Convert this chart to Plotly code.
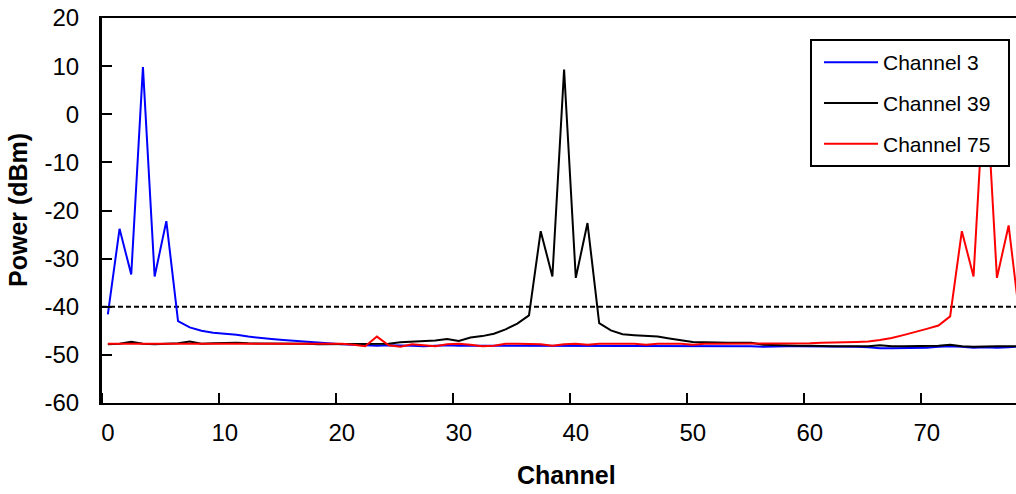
import plotly.graph_objects as go

# Channel index 0..78
channels = list(range(79))

# Measured power (dBm) per channel for each transmit channel
power_ch3 = [
    -41.6, -23.8, -33.3, 9.8, -33.7, -22.2, -43.0, -44.3, -45.0, -45.4,
    -45.6, -45.8, -46.2, -46.5, -46.7, -46.9, -47.1, -47.2, -47.4, -47.6,
    -47.8, -47.9, -48.0, -48.1, -48.0, -48.0, -48.1, -48.2, -48.1, -48.0,
    -48.1, -48.1, -48.2, -48.2, -48.1, -48.1, -48.1, -48.2, -48.2, -48.1,
    -48.1, -48.2, -48.2, -48.1, -48.2, -48.2, -48.1, -48.2, -48.2, -48.2,
    -48.2, -48.2, -48.2, -48.2, -48.2, -48.2, -48.3, -48.2, -48.2, -48.2,
    -48.2, -48.2, -48.2, -48.3, -48.3, -48.4, -48.6, -48.6, -48.6, -48.6,
    -48.5, -48.3, -48.2, -48.3, -48.5, -48.4, -48.5, -48.4, -48.3,
]

power_ch39 = [
    -47.8, -47.7, -47.3, -47.7, -47.8, -47.7, -47.6, -47.2, -47.7, -47.6,
    -47.5, -47.5, -47.6, -47.6, -47.7, -47.7, -47.7, -47.7, -47.8, -47.8,
    -47.8, -47.8, -47.8, -47.8, -47.7, -47.4, -47.3, -47.1, -47.0, -46.7,
    -47.1, -46.4, -46.1, -45.6, -44.7, -43.5, -41.8, -24.3, -33.7, 9.3,
    -34.0, -22.6, -43.4, -44.9, -45.7, -45.9, -46.0, -46.2, -46.6, -47.0,
    -47.3, -47.4, -47.5, -47.5, -47.5, -47.5, -47.9, -48.0, -48.1, -48.1,
    -48.1, -48.2, -48.2, -48.2, -48.2, -48.2, -48.0, -48.2, -48.2, -48.2,
    -48.2, -48.1, -47.9, -48.2, -48.3, -48.2, -48.2, -48.2, -48.2,
]

power_ch75 = [
    -47.7, -47.7, -47.7, -47.7, -47.7, -47.7, -47.7, -47.7, -47.7, -47.7,
    -47.7, -47.7, -47.7, -47.7, -47.7, -47.7, -47.7, -47.7, -47.7, -47.7,
    -47.7, -47.9, -48.2, -46.2, -48.0, -48.3, -47.8, -48.0, -48.2, -47.8,
    -47.7, -47.9, -48.2, -48.1, -47.7, -47.7, -47.7, -47.8, -48.1, -47.8,
    -47.7, -47.9, -47.7, -47.7, -47.7, -47.7, -47.9, -47.7, -47.7, -47.7,
    -47.9, -47.7, -47.7, -47.7, -47.7, -47.7, -47.7, -47.7, -47.7, -47.7,
    -47.6, -47.5, -47.5, -47.4, -47.3, -47.2, -46.9, -46.5, -45.9, -45.3,
    -44.6, -43.9, -42.0, -24.3, -33.7, 9.5, -34.0, -23.1, -43.5,
]

series_names = ["Channel 3", "Channel 39", "Channel 75"]
series_colors = ["#0000FF", "#000000", "#FF0000"]
threshold_dbm = -40

x_tick_vals = [0, 10, 20, 30, 40, 50, 60, 70]
y_tick_vals = [20, 10, 0, -10, -20, -30, -40, -50, -60]

FONT = "Liberation Sans, Arial, sans-serif"

# plot area in pixels
PL, PR, PT, PB = 102, 1016, 18, 403
PW, PH = PR - PL, PB - PT


def px_x(px):
    return (px - PL) / PW


def px_y(py):
    return (PB - py) / PH


fig = go.Figure()
for i, (name, values, color) in enumerate(
    zip(series_names, [power_ch3, power_ch39, power_ch75], series_colors)
):
    fig.add_trace(
        go.Scatter(
            x=channels,
            y=values,
            mode="lines",
            name=name,
            legendgroup=f"g{i}",
            line=dict(color=color, width=2),
        )
    )

# -40 dBm limit line
fig.add_shape(
    type="line",
    xref="paper",
    yref="y",
    x0=0,
    x1=1,
    y0=threshold_dbm,
    y1=threshold_dbm,
    line=dict(color="#000000", width=2, dash="5px,3px"),
    layer="below",
)

# legend frame (white panel drawn over the traces)
fig.add_shape(
    type="rect",
    xref="paper",
    yref="paper",
    x0=px_x(811),
    x1=px_x(1009),
    y0=px_y(166),
    y1=px_y(40),
    line=dict(color="#000000", width=2),
    fillcolor="#FFFFFF",
    layer="above",
)

fig.update_layout(
    width=1016,
    height=494,
    margin=dict(l=PL, r=1016 - PR, t=PT, b=494 - PB),
    paper_bgcolor="#FFFFFF",
    plot_bgcolor="#FFFFFF",
    font=dict(family=FONT, color="#000000", size=24),
    showlegend=True,
    legend=dict(
        x=px_x(819),
        y=px_y(42),
        xanchor="left",
        yanchor="top",
        bgcolor="rgba(0,0,0,0)",
        borderwidth=0,
        font=dict(family=FONT, size=21, color="#000000"),
        tracegroupgap=10.5,
        itemwidth=54,
    ),
    xaxis=dict(
        range=[-0.5, 77.63],
        tickmode="array",
        tickvals=x_tick_vals,
        ticktext=[str(v) for v in x_tick_vals],
        ticks="",
        ticklabelstandoff=7,
        showgrid=False,
        zeroline=False,
        showline=True,
        linecolor="#000000",
        linewidth=2,
        mirror=True,
        minor=dict(
            tick0=-0.5,
            dtick=10,
            ticks="inside",
            ticklen=10,
            tickwidth=2,
            tickcolor="#000000",
            showgrid=False,
        ),
        tickfont=dict(size=24),
    ),
    yaxis=dict(
        range=[-60, 20],
        tickmode="array",
        tickvals=y_tick_vals,
        ticktext=[str(v) for v in y_tick_vals],
        ticks="inside",
        ticklen=10,
        tickwidth=2,
        tickcolor="#000000",
        ticklabelstandoff=15,
        showgrid=False,
        zeroline=False,
        showline=True,
        linecolor="#000000",
        linewidth=3,
        tickfont=dict(size=24),
    ),
    annotations=[
        dict(
            text="<b>Channel</b>",
            xref="paper",
            yref="paper",
            x=px_x(566),
            y=px_y(475),
            xanchor="center",
            yanchor="middle",
            showarrow=False,
            font=dict(family=FONT, size=25, color="#000000"),
        ),
        dict(
            text="<b>Power (dBm)</b>",
            xref="paper",
            yref="paper",
            x=px_x(18),
            y=px_y(210),
            xanchor="center",
            yanchor="middle",
            textangle=-90,
            showarrow=False,
            font=dict(family=FONT, size=25, color="#000000"),
        ),
    ],
)

fig.write_html("out.html")
